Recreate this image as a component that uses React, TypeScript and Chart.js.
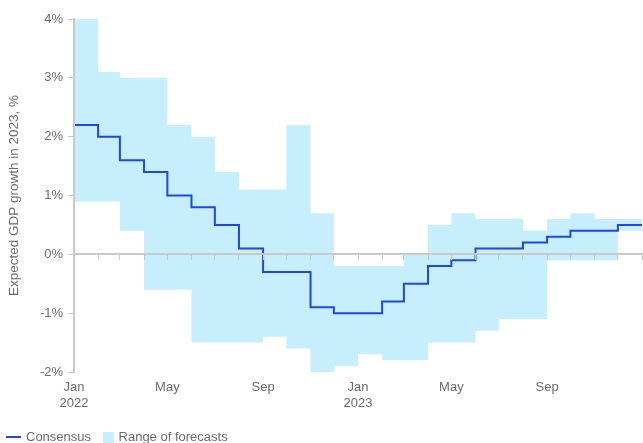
import { useEffect, useRef } from 'react';
import { Chart, registerables } from 'chart.js';

Chart.register(...registerables);

// Month starts (the last entry closes the final step)
const months = [
  '2022-01', '2022-02', '2022-03', '2022-04', '2022-05', '2022-06',
  '2022-07', '2022-08', '2022-09', '2022-10', '2022-11', '2022-12',
  '2023-01', '2023-02', '2023-03', '2023-04', '2023-05', '2023-06',
  '2023-07', '2023-08', '2023-09', '2023-10', '2023-11', '2023-12',
  '2024-01',
];

// Consensus forecast, % (one value per month)
const consensus = [
  2.2, 2.0, 1.6, 1.4, 1.0, 0.8, 0.5, 0.1, -0.3, -0.3, -0.9, -1.0,
  -1.0, -0.8, -0.5, -0.2, -0.1, 0.1, 0.1, 0.2, 0.3, 0.4, 0.4, 0.5,
];

// Range of forecasts, highest and lowest, %
const rangeHigh = [
  4.0, 3.1, 3.0, 3.0, 2.2, 2.0, 1.4, 1.1, 1.1, 2.2, 0.7, -0.2,
  -0.2, -0.2, 0.0, 0.5, 0.7, 0.6, 0.6, 0.4, 0.6, 0.7, 0.6, 0.6,
];
const rangeLow = [
  0.9, 0.9, 0.4, -0.6, -0.6, -1.5, -1.5, -1.5, -1.4, -1.6, -2.0, -1.9,
  -1.7, -1.8, -1.8, -1.5, -1.5, -1.3, -1.1, -1.1, -0.1, -0.1, -0.1, 0.4,
];

const tickMonths = ['2022-01', '2022-05', '2022-09', '2023-01', '2023-05', '2023-09'];
const tickLabels: (string | string[])[] = [['Jan', '2022'], 'May', 'Sep', ['Jan', '2023'], 'May', 'Sep'];

const yTicks = [-2, -1, 0, 1, 2, 3, 4];

const BLUE = '#1f48e0';
const BAND = '#c6eefd';
const AXIS = '#c9c9c9';
const TEXT = '#6b6b6b';
const FONT = { family: '"Liberation Sans", Arial, sans-serif', size: 13 };

const dayOf = (m: string) => {
  const [y, mo] = m.split('-').map(Number);
  return (Date.UTC(y, mo - 1, 1) - Date.UTC(2022, 0, 1)) / 86400000;
};
const xs = months.map(dayOf);
const pts = (vals: number[]) => xs.map((x, i) => ({ x, y: vals[Math.min(i, vals.length - 1)] }));

function legendLine() {
  const c = document.createElement('canvas');
  c.width = 15; c.height = 2;
  const g = c.getContext('2d')!;
  g.fillStyle = BLUE; g.fillRect(0, 0, 15, 2);
  return c;
}
function legendSquare() {
  const c = document.createElement('canvas');
  c.width = 16; c.height = 11;
  const g = c.getContext('2d')!;
  g.fillStyle = BAND; g.fillRect(5, 0, 11, 11);
  return c;
}

export default function App() {
  const ref = useRef<HTMLCanvasElement>(null);
  useEffect(() => {
    if (!ref.current) return;
    const xMin = xs[0];
    const xMax = xs[xs.length - 1];
    const chart = new Chart(ref.current, {
      type: 'line',
      data: {
        datasets: [
          {
            label: 'Consensus',
            data: pts(consensus),
            borderColor: BLUE,
            borderWidth: 2,
            stepped: true,
            pointRadius: 0,
            fill: false,
            pointStyle: legendLine(),
          },
          {
            label: 'Range of forecasts',
            data: pts(rangeHigh),
            borderWidth: 0,
            borderColor: 'rgba(0,0,0,0)',
            backgroundColor: BAND,
            fill: '+1',
            stepped: true,
            pointRadius: 0,
            pointStyle: legendSquare(),
          },
          {
            label: 'low',
            data: pts(rangeLow),
            borderWidth: 0,
            borderColor: 'rgba(0,0,0,0)',
            backgroundColor: BAND,
            fill: false,
            stepped: true,
            pointRadius: 0,
          },
        ],
      } as any,
      options: {
        animation: false,
        responsive: false,
        layout: { padding: { left: -1.5, right: 1, top: 19, bottom: -10.5 } },
        plugins: {
          tooltip: { enabled: false },
          legend: {
            position: 'bottom',
            align: 'start',
            labels: {
              usePointStyle: true,
              boxWidth: 12,
              boxHeight: 12,
              padding: 9,
              color: TEXT,
              font: FONT,
              filter: (item: any) => item.datasetIndex !== 2,
            },
          },
        },
        scales: {
          x: {
            type: 'linear',
            position: 'bottom',
            min: xMin,
            max: xMax,
            afterBuildTicks: (s: any) => {
              s.ticks = tickMonths.map((m) => ({ value: dayOf(m) }));
            },
            afterFit: (s: any) => { s.height = 49.5; },
            ticks: {
              autoSkip: false,
              maxRotation: 0,
              padding: 8,
              color: TEXT,
              font: FONT,
              callback: (_v: any, i: number) => tickLabels[i],
            },
            grid: { display: false, drawTicks: false },
            border: { display: false },
          },
          x0: {
            type: 'linear',
            axis: 'x',
            position: { y: 0 },
            min: xMin,
            max: xMax,
            afterBuildTicks: (s: any) => {
              s.ticks = xs.map((v) => ({ value: v }));
            },
            ticks: { display: false },
            grid: { drawOnChartArea: false, tickLength: 5, color: AXIS, z: 1 },
            border: { color: AXIS, width: 2, z: 1 },
          },
          y: {
            min: -2,
            max: 4,
            afterBuildTicks: (s: any) => {
              s.ticks = yTicks.map((v) => ({ value: v }));
            },
            afterFit: (s: any) => { s.width = 75.5; },
            ticks: {
              padding: 5,
              color: TEXT,
              font: FONT,
              callback: (v: any) => `${v}%`,
            },
            grid: { drawOnChartArea: false, tickLength: 6, color: AXIS, z: 1 },
            border: { color: AXIS, width: 2, z: 1 },
            title: {
              display: true,
              text: 'Expected GDP growth in 2023, %',
              color: TEXT,
              font: { ...FONT, size: 13.5 },
              padding: { top: 8, bottom: 0 },
            },
          },
        },
      } as any,
    });
    return () => chart.destroy();
  }, []);
  return (
    <div style={{ position: 'absolute', left: 0, top: 0, width: 643, height: 443 }}>
      <canvas ref={ref} width={643} height={443} style={{ display: 'block' }} />
    </div>
  );
}
